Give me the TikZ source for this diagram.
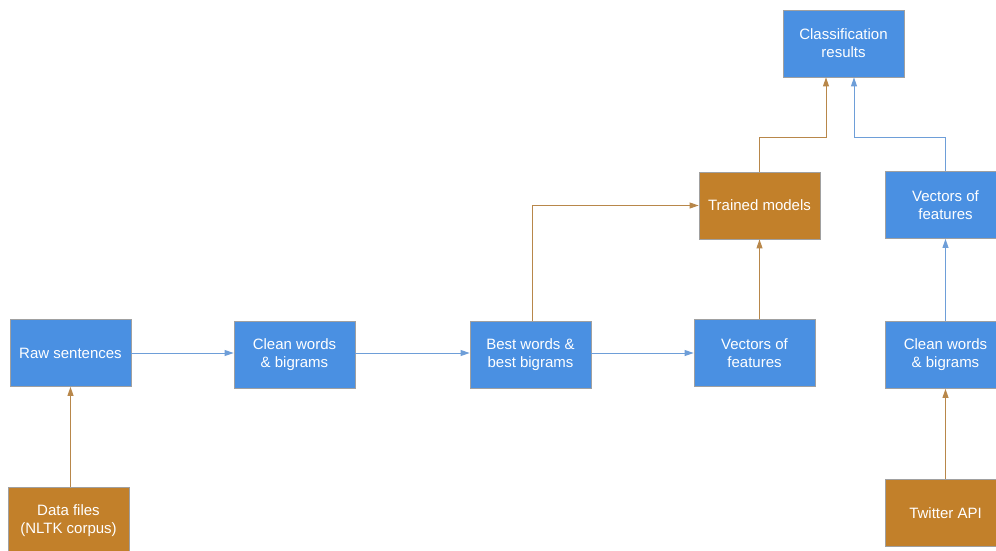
\documentclass[tikz,border=0pt]{standalone}
\usepackage{fontspec}
\setmainfont{Liberation Sans}
\usetikzlibrary{arrows.meta,calc,positioning}

\definecolor{boxBlue}{HTML}{4A90E2}
\definecolor{boxBrown}{HTML}{C2802A}
\definecolor{edgeGray}{HTML}{A0A0A0}
\definecolor{lineBlue}{HTML}{6E9ED8}
\definecolor{lineBrown}{HTML}{B8874A}

\tikzset{
	stage/.style={draw=edgeGray, line width=0.8pt, fill=boxBlue, text=white,
		minimum width=121pt, minimum height=67pt, align=center,
		font=\fontsize{15}{18}\selectfont},
	source/.style={stage, fill=boxBrown},
	flowB/.style={-{Triangle[length=9pt,width=6pt]}, line width=1pt, lineBlue},
	flowO/.style={-{Triangle[length=9pt,width=6pt]}, line width=1pt, lineBrown}
}

\begin{document}
\begin{tikzpicture}[x=1pt, y=-1pt]

	\useasboundingbox (0,0) rectangle (996,550);

	\def\yRow{355}
	\def\yJoin{137}

	% training branch
	\node[stage] (raw) at (70.5, 353) {Raw sentences};
	\node[source] (data) at (68.5, 520.5) {Data files\\(NLTK corpus)};
	\node[stage] (clean) at (294.5, \yRow) {Clean words\\\& bigrams};
	\node[stage] (best) at (530.5, \yRow) {Best words \&\\best bigrams};
	\node[stage] (vec) at (754.5, 353) {Vectors of\\features};
	\node[source] (trained) at (759.5, 205.5) {Trained models};

	% results
	\node[stage] (result) at (843.5, 43.5) {Classification\\results};

	% twitter branch
	\node[source] (twitter) at (945.5, 513) {Twitter API};
	\node[stage] (cleanT) at (945.5, \yRow) {Clean words\\\& bigrams};
	\node[stage] (vecT) at (945.5, 205) {Vectors of\\features};

	\coordinate (knotO) at (826, \yJoin);
	\coordinate (knotB) at (854, \yJoin);

	\draw[flowO] (raw.south |- data.north) -- (raw.south);
	\draw[flowB] (raw.east) -- (raw.east -| clean.west);
	\draw[flowB] (clean.east |- raw.east) -- (best.west |- raw.east);
	\draw[flowB] (best.east |- vec.west) -- (vec.west);
	\draw[flowO] ([xshift=1.5pt]best.north) |- (trained.west);
	\draw[flowO] (trained.south |- vec.north) -- (trained.south);
	\draw[flowO] (trained.north) |- (knotO) -- (knotO |- result.south);

	\draw[flowO] (twitter.north) -- (cleanT.south);
	\draw[flowB] (cleanT.north) -- (vecT.south);
	\draw[flowB] (vecT.north) |- (knotB) -- (knotB |- result.south);

\end{tikzpicture}
\end{document}
